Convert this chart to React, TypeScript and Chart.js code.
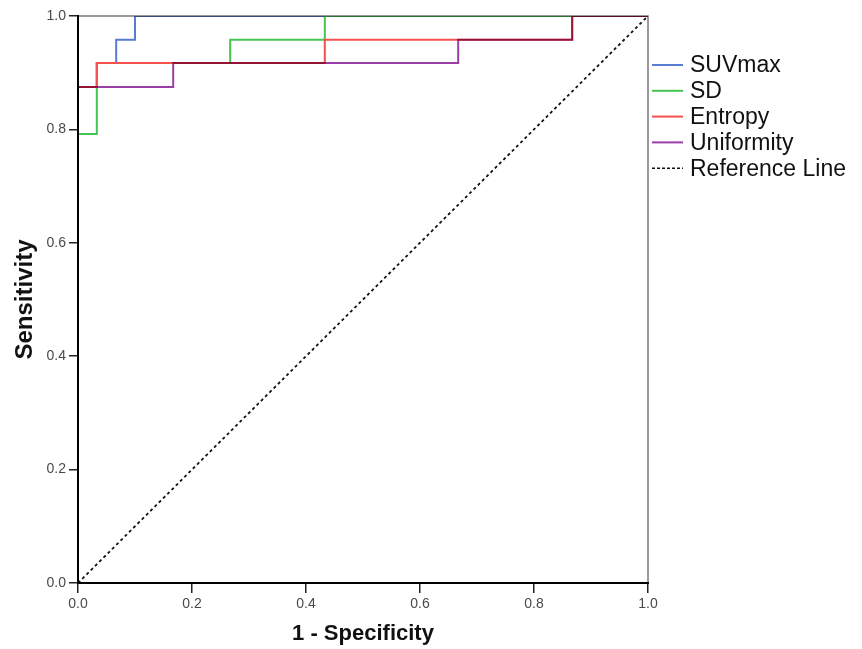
import React, { useEffect, useRef } from "react";
import { Chart, registerables } from "chart.js";

Chart.register(...registerables);

// ROC coordinates (1 - Specificity, Sensitivity)
const suvX = [0, 0, 0.033, 0.067, 0.1, 1];
const suvY = [0, 0.875, 0.917, 0.958, 1, 1];
const sdX = [0, 0, 0.033, 0.267, 0.433, 1];
const sdY = [0, 0.792, 0.917, 0.958, 1, 1];
const entX = [0, 0, 0.033, 0.433, 0.867, 1];
const entY = [0, 0.875, 0.917, 0.958, 1, 1];
const uniX = [0, 0, 0.167, 0.667, 0.867, 1];
const uniY = [0, 0.875, 0.917, 0.958, 1, 1];
const refX = [0, 1];
const refY = [0, 1];

const seriesNames = ["SUVmax", "SD", "Entropy", "Uniformity", "Reference Line"];
const seriesColors = ["#5a7bd4", "#45c452", "#f55050", "#9a3fa6", "#111111"];
const xTitle = "1 - Specificity";
const yTitle = "Sensitivity";

const pts = (xs: number[], ys: number[]) => xs.map((x, i) => ({ x, y: ys[i] }));

export default function App() {
  const ref = useRef<HTMLCanvasElement | null>(null);
  useEffect(() => {
    if (!ref.current) return;
    const framePlugin = {
      id: "frame",
      beforeDatasetDraw(chart: any, args: any) {
        if (args.index === 3) {
          chart.ctx.save();
          chart.ctx.globalCompositeOperation = "multiply";
        }
      },
      afterDatasetDraw(chart: any, args: any) {
        if (args.index === 3) chart.ctx.restore();
      },
      afterDatasetsDraw(chart: any) {
        const { ctx, chartArea: a } = chart;
        ctx.save();
        ctx.globalCompositeOperation = "multiply";
        ctx.lineCap = "square";
        ctx.strokeStyle = "#7a7a7a";
        ctx.lineWidth = 1.5;
        ctx.beginPath();
        ctx.moveTo(a.left, a.top);
        ctx.lineTo(a.right, a.top);
        ctx.lineTo(a.right, a.bottom);
        ctx.stroke();
        ctx.strokeStyle = "#000";
        ctx.lineWidth = 2;
        ctx.beginPath();
        ctx.moveTo(a.left, a.top);
        ctx.lineTo(a.left, a.bottom);
        ctx.lineTo(a.right, a.bottom);
        ctx.stroke();
        ctx.restore();
      },
      afterDraw(chart: any) {
        const { ctx, chartArea: a } = chart;
        ctx.save();
        const x0 = a.right + 4;
        const x1 = a.right + 35;
        const tx = a.right + 42;
        const y0 = 65;
        const step = 25.8;
        ctx.font = "23px 'Liberation Sans', Arial, sans-serif";
        ctx.textBaseline = "middle";
        ctx.textAlign = "left";
        seriesNames.forEach((name, i) => {
          const y = y0 + i * step;
          ctx.strokeStyle = seriesColors[i];
          ctx.lineWidth = i === 4 ? 1.5 : 2;
          ctx.setLineDash(i === 4 ? [3, 2] : []);
          ctx.beginPath();
          ctx.moveTo(x0, y);
          ctx.lineTo(x1, y);
          ctx.stroke();
          ctx.setLineDash([]);
          ctx.fillStyle = "#111";
          ctx.fillText(name, tx, y + 1);
        });
        ctx.restore();
      },
    };

    const mk = (i: number, xs: number[], ys: number[], order: number) => ({
      label: seriesNames[i],
      data: pts(xs, ys),
      borderColor: seriesColors[i],
      backgroundColor: seriesColors[i],
      borderWidth: i === 4 ? 1.8 : 2,
      pointRadius: 0,
      stepped: i === 4 ? false : ("before" as any),
      borderDash: i === 4 ? [3, 3] : [],
      fill: false,
      order,
    });

    const chart = new Chart(ref.current, {
      type: "line",
      data: {
        datasets: [
          mk(0, suvX, suvY, 3),
          mk(1, sdX, sdY, 2),
          mk(2, entX, entY, 1),
          mk(3, uniX, uniY, 0),
          mk(4, refX, refY, 4),
        ],
      },
      options: {
        responsive: false,
        animation: false,
        events: [],
        layout: { padding: { top: 16, right: 214, left: 0, bottom: 0 } },
        plugins: { legend: { display: false }, tooltip: { enabled: false } },
        scales: {
          x: {
            type: "linear",
            min: 0,
            max: 1,
            afterFit: (s: any) => {
              s.height = 66;
            },
            ticks: {
              stepSize: 0.2,
              padding: 3,
              color: "#4a4a4a",
              font: { size: 14, family: "'Liberation Sans', Arial, sans-serif" },
              callback: (v: any) => Number(v).toFixed(1),
              maxRotation: 0,
            },
            grid: { drawOnChartArea: false, drawTicks: true, tickLength: 10, color: "#222", lineWidth: 1.5 },
            border: { display: false },
            title: {
              display: true,
              text: xTitle,
              color: "#111",
              font: { size: 22, weight: "bold", family: "'Liberation Sans', Arial, sans-serif" },
              padding: { top: 0, bottom: 2 },
            },
          },
          y: {
            type: "linear",
            min: 0,
            max: 1,
            afterFit: (s: any) => {
              s.width = 78;
            },
            ticks: {
              stepSize: 0.2,
              padding: 3,
              color: "#4a4a4a",
              font: { size: 14, family: "'Liberation Sans', Arial, sans-serif" },
              callback: (v: any) => Number(v).toFixed(1),
            },
            grid: { drawOnChartArea: false, drawTicks: true, tickLength: 9, color: "#222", lineWidth: 1.5 },
            border: { display: false },
            title: {
              display: true,
              text: yTitle,
              color: "#111",
              font: { size: 24, weight: "bold", family: "'Liberation Sans', Arial, sans-serif" },
              padding: { top: 11, bottom: 0 },
            },
          },
        },
      },
      plugins: [framePlugin],
    });
    return () => chart.destroy();
  }, []);

  return (
    <div style={{ position: "absolute", left: 0, top: 0, width: 862, height: 649, background: "#fff" }}>
      <canvas ref={ref} width={862} height={649} style={{ display: "block" }} />
    </div>
  );
}
